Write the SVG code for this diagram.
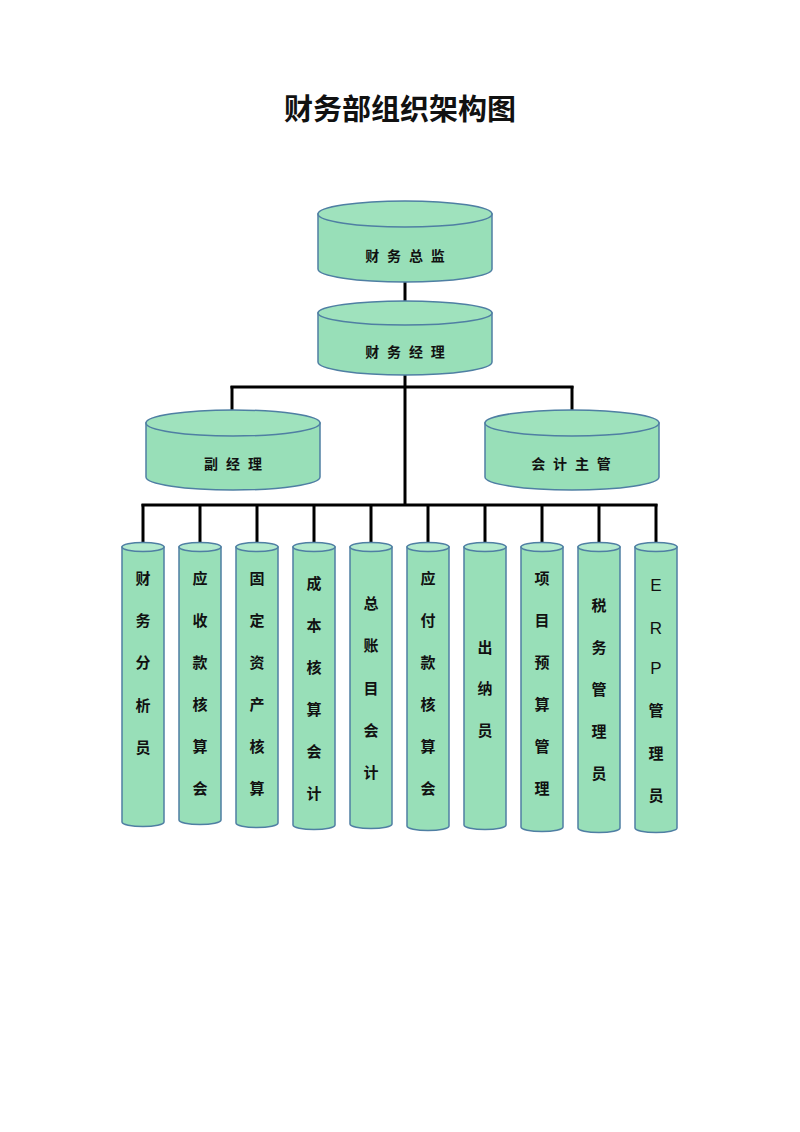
<svg xmlns="http://www.w3.org/2000/svg" width="800" height="1132" viewBox="0 0 800 1132">
<style>
.body{fill:#98dfb8;stroke:#4f7fa3;stroke-width:1.5}
.top{fill:#9fe2bd;stroke:#4f7fa3;stroke-width:1.5}
.ctop{fill:#b3eacd;stroke:#4f7fa3;stroke-width:1.5}
.lbl{font-family:"Liberation Sans","Noto Sans CJK SC",sans-serif;font-weight:bold;fill:#111;text-anchor:middle;dominant-baseline:central}
.big{font-size:14px;letter-spacing:2px}
.col{font-size:15px}
.lat{font-size:17px;font-weight:normal}
.conn line{stroke:#000;stroke-width:3}
</style>
<rect width="800" height="1132" fill="#fff"/>
<text x="400" y="110" class="lbl" style="font-size:29px">财务部组织架构图</text>
<g class="conn" id="connectors">
<line x1="405" y1="282" x2="405" y2="302"/>
<line x1="405" y1="375" x2="405" y2="506"/>
<line x1="230.5" y1="387" x2="573.5" y2="387"/>
<line x1="232" y1="386" x2="232" y2="410"/>
<line x1="572" y1="386" x2="572" y2="410"/>
<line x1="141.5" y1="505" x2="657.5" y2="505"/>
<line x1="143" y1="504" x2="143" y2="543"/>
<line x1="200" y1="504" x2="200" y2="543"/>
<line x1="257" y1="504" x2="257" y2="543"/>
<line x1="314" y1="504" x2="314" y2="543"/>
<line x1="371" y1="504" x2="371" y2="543"/>
<line x1="428" y1="504" x2="428" y2="543"/>
<line x1="485" y1="504" x2="485" y2="543"/>
<line x1="542" y1="504" x2="542" y2="543"/>
<line x1="599" y1="504" x2="599" y2="543"/>
<line x1="656" y1="504" x2="656" y2="543"/>
</g>
<g id="n1">
<path class="body" d="M318,214 V269 A87,13 0 0 0 492,269 V214 Z"/>
<ellipse class="top" cx="405" cy="214" rx="87" ry="13"/>
<text class="lbl big" x="406" y="256">财 务 总 监</text>
</g>
<g id="n2">
<path class="body" d="M318,313 V362 A87,13 0 0 0 492,362 V313 Z"/>
<ellipse class="top" cx="405" cy="313" rx="87" ry="12"/>
<text class="lbl big" x="406" y="352">财 务 经 理</text>
</g>
<g id="n3">
<path class="body" d="M146,423 V477 A87,13 0 0 0 320,477 V423 Z"/>
<ellipse class="top" cx="233" cy="423" rx="87" ry="13"/>
<text class="lbl big" x="234" y="464">副 经 理</text>
</g>
<g id="n4">
<path class="body" d="M485,423 V477 A87,13 0 0 0 659,477 V423 Z"/>
<ellipse class="top" cx="572" cy="423" rx="87" ry="13"/>
<text class="lbl big" x="572" y="464">会 计 主 管</text>
</g>
<g id="c1">
<path class="body" d="M122,547 V822 A21,4.5 0 0 0 164,822 V547 Z"/>
<ellipse class="ctop" cx="143" cy="547" rx="21" ry="4.5"/>
<g class="lbl col"><text x="143" y="578">财</text><text x="143" y="620">务</text><text x="143" y="662">分</text><text x="143" y="705">析</text><text x="143" y="747">员</text></g>
</g>
<g id="c2">
<path class="body" d="M179,547 V820 A21,4.5 0 0 0 221,820 V547 Z"/>
<ellipse class="ctop" cx="200" cy="547" rx="21" ry="4.5"/>
<g class="lbl col"><text x="200" y="578">应</text><text x="200" y="620">收</text><text x="200" y="662">款</text><text x="200" y="704">核</text><text x="200" y="746">算</text><text x="200" y="788">会</text></g>
</g>
<g id="c3">
<path class="body" d="M236,547 V823 A21,4.5 0 0 0 278,823 V547 Z"/>
<ellipse class="ctop" cx="257" cy="547" rx="21" ry="4.5"/>
<g class="lbl col"><text x="257" y="578">固</text><text x="257" y="620">定</text><text x="257" y="662">资</text><text x="257" y="704">产</text><text x="257" y="746">核</text><text x="257" y="788">算</text></g>
</g>
<g id="c4">
<path class="body" d="M293,547 V825 A21,4.5 0 0 0 335,825 V547 Z"/>
<ellipse class="ctop" cx="314" cy="547" rx="21" ry="4.5"/>
<g class="lbl col"><text x="314" y="583">成</text><text x="314" y="625">本</text><text x="314" y="667">核</text><text x="314" y="709">算</text><text x="314" y="751">会</text><text x="314" y="793">计</text></g>
</g>
<g id="c5">
<path class="body" d="M350,547 V824 A21,4.5 0 0 0 392,824 V547 Z"/>
<ellipse class="ctop" cx="371" cy="547" rx="21" ry="4.5"/>
<g class="lbl col"><text x="371" y="603">总</text><text x="371" y="645">账</text><text x="371" y="688">目</text><text x="371" y="730">会</text><text x="371" y="772">计</text></g>
</g>
<g id="c6">
<path class="body" d="M407,547 V826 A21,4.5 0 0 0 449,826 V547 Z"/>
<ellipse class="ctop" cx="428" cy="547" rx="21" ry="4.5"/>
<g class="lbl col"><text x="428" y="578">应</text><text x="428" y="620">付</text><text x="428" y="662">款</text><text x="428" y="704">核</text><text x="428" y="746">算</text><text x="428" y="788">会</text></g>
</g>
<g id="c7">
<path class="body" d="M464,547 V825 A21,4.5 0 0 0 506,825 V547 Z"/>
<ellipse class="ctop" cx="485" cy="547" rx="21" ry="4.5"/>
<g class="lbl col"><text x="485" y="647">出</text><text x="485" y="688">纳</text><text x="485" y="730">员</text></g>
</g>
<g id="c8">
<path class="body" d="M521,547 V827 A21,4.5 0 0 0 563,827 V547 Z"/>
<ellipse class="ctop" cx="542" cy="547" rx="21" ry="4.5"/>
<g class="lbl col"><text x="542" y="578">项</text><text x="542" y="620">目</text><text x="542" y="662">预</text><text x="542" y="704">算</text><text x="542" y="746">管</text><text x="542" y="788">理</text></g>
</g>
<g id="c9">
<path class="body" d="M578,547 V828 A21,4.5 0 0 0 620,828 V547 Z"/>
<ellipse class="ctop" cx="599" cy="547" rx="21" ry="4.5"/>
<g class="lbl col"><text x="599" y="605">税</text><text x="599" y="647">务</text><text x="599" y="689">管</text><text x="599" y="731">理</text><text x="599" y="773">员</text></g>
</g>
<g id="c10">
<path class="body" d="M635,547 V828 A21,4.5 0 0 0 677,828 V547 Z"/>
<ellipse class="ctop" cx="656" cy="547" rx="21" ry="4.5"/>
<g class="lbl col"><text class="lat" x="656" y="585">E</text><text class="lat" x="656" y="628">R</text><text class="lat" x="656" y="668">P</text><text x="656" y="710">管</text><text x="656" y="753">理</text><text x="656" y="795">员</text></g>
</g>
</svg>
